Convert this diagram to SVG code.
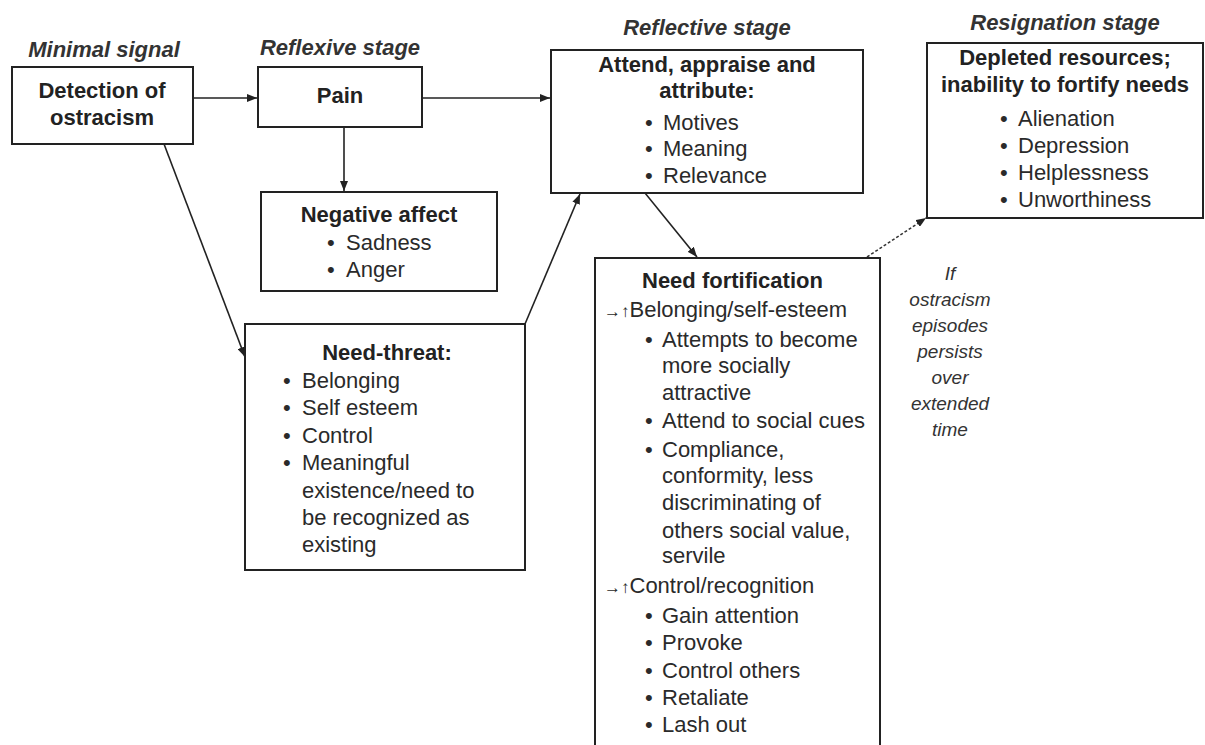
<svg xmlns="http://www.w3.org/2000/svg" width="1205" height="745" viewBox="0 0 1205 745">
<style>
text{font-family:"Liberation Sans",Arial,Helvetica,sans-serif;font-size:22px;fill:#2a2a2a}
.b{font-weight:bold;fill:#222}
.st{font-weight:bold;font-style:italic;fill:#333}
.it{font-style:italic;font-size:19px;fill:#333}
.c{text-anchor:middle}
.box{fill:#fff;stroke:#222;stroke-width:2}
.ln{stroke:#222;stroke-width:1.6;fill:none}
.dot{stroke:#333;stroke-width:1.5;fill:none;stroke-dasharray:3 2}
.ar{font-size:17px}
</style>
<defs>
<marker id="ah" viewBox="0 0 10 8" refX="10" refY="4" markerWidth="10" markerHeight="8" markerUnits="userSpaceOnUse" orient="auto">
<path d="M0,0 L10,4 L0,8 Z" fill="#222"/>
</marker>
</defs>
<rect width="1205" height="745" fill="#fff"/>

<g id="labels">
<text class="st c" x="104" y="57">Minimal signal</text>
<text class="st c" x="340" y="55">Reflexive stage</text>
<text class="st c" x="707" y="35">Reflective stage</text>
<text class="st c" x="1065" y="30">Resignation stage</text>
</g>

<g id="connectors">
<line class="ln" x1="193" y1="98" x2="257" y2="98" marker-end="url(#ah)"/>
<line class="ln" x1="422" y1="98" x2="550" y2="98" marker-end="url(#ah)"/>
<line class="ln" x1="344" y1="127" x2="344" y2="191" marker-end="url(#ah)"/>
<line class="ln" x1="164" y1="144" x2="245" y2="357" marker-end="url(#ah)"/>
<line class="ln" x1="525" y1="324" x2="580" y2="194" marker-end="url(#ah)"/>
<line class="ln" x1="645" y1="193" x2="697" y2="257" marker-end="url(#ah)"/>
<line class="dot" x1="867" y1="257" x2="926" y2="218" marker-end="url(#ah)"/>
</g>

<g id="detection">
<rect class="box" x="12" y="67" width="181" height="77"/>
<text class="b c" x="102" y="98">Detection of</text>
<text class="b c" x="102" y="125">ostracism</text>
</g>

<g id="pain">
<rect class="box" x="258" y="67" width="164" height="60"/>
<text class="b c" x="340" y="103">Pain</text>
</g>

<g id="negative-affect">
<rect class="box" x="261" y="192" width="236" height="99"/>
<text class="b c" x="379" y="222">Negative affect</text>
<text x="327" y="250">•<tspan x="346">Sadness</tspan></text>
<text x="327" y="277">•<tspan x="346">Anger</tspan></text>
</g>

<g id="need-threat">
<rect class="box" x="245" y="324" width="280" height="246"/>
<text class="b c" x="387" y="360">Need-threat:</text>
<text x="283" y="388">•<tspan x="302">Belonging</tspan></text>
<text x="283" y="415">•<tspan x="302">Self esteem</tspan></text>
<text x="283" y="443">•<tspan x="302">Control</tspan></text>
<text x="283" y="470">•<tspan x="302">Meaningful</tspan></text>
<text x="302" y="498">existence/need to</text>
<text x="302" y="525">be recognized as</text>
<text x="302" y="552">existing</text>
</g>

<g id="reflective">
<rect class="box" x="551" y="50" width="312" height="143"/>
<text class="b c" x="707" y="72">Attend, appraise and</text>
<text class="b c" x="707" y="98">attribute:</text>
<text x="645" y="130">•<tspan x="663">Motives</tspan></text>
<text x="645" y="156">•<tspan x="663">Meaning</tspan></text>
<text x="645" y="183">•<tspan x="663">Relevance</tspan></text>
</g>

<g id="resignation">
<rect class="box" x="927" y="43" width="276" height="175"/>
<text class="b c" x="1065" y="65">Depleted resources;</text>
<text class="b c" x="1065" y="92">inability to fortify needs</text>
<text x="1000" y="126">•<tspan x="1018">Alienation</tspan></text>
<text x="1000" y="153">•<tspan x="1018">Depression</tspan></text>
<text x="1000" y="180">•<tspan x="1018">Helplessness</tspan></text>
<text x="1000" y="207">•<tspan x="1018">Unworthiness</tspan></text>
</g>

<g id="need-fortification">
<rect class="box" x="595" y="258" width="285" height="500"/>
<text class="b" x="642" y="288">Need fortification</text>
<text x="604" y="317"><tspan class="ar">→↑</tspan>Belonging/self-esteem</text>
<text x="645" y="347">•<tspan x="662">Attempts to become</tspan></text>
<text x="662" y="373">more socially</text>
<text x="662" y="400">attractive</text>
<text x="645" y="428">•<tspan x="662">Attend to social cues</tspan></text>
<text x="645" y="457">•<tspan x="662">Compliance,</tspan></text>
<text x="662" y="483">conformity, less</text>
<text x="662" y="510">discriminating of</text>
<text x="662" y="538">others social value,</text>
<text x="662" y="563">servile</text>
<text x="604" y="593"><tspan class="ar">→↑</tspan>Control/recognition</text>
<text x="645" y="623">•<tspan x="662">Gain attention</tspan></text>
<text x="645" y="650">•<tspan x="662">Provoke</tspan></text>
<text x="645" y="678">•<tspan x="662">Control others</tspan></text>
<text x="645" y="705">•<tspan x="662">Retaliate</tspan></text>
<text x="645" y="732">•<tspan x="662">Lash out</tspan></text>
</g>

<g id="persist-note">
<text class="it c" x="950" y="280">If</text>
<text class="it c" x="950" y="306">ostracism</text>
<text class="it c" x="950" y="332">episodes</text>
<text class="it c" x="950" y="358">persists</text>
<text class="it c" x="950" y="384">over</text>
<text class="it c" x="950" y="410">extended</text>
<text class="it c" x="950" y="436">time</text>
</g>
</svg>
